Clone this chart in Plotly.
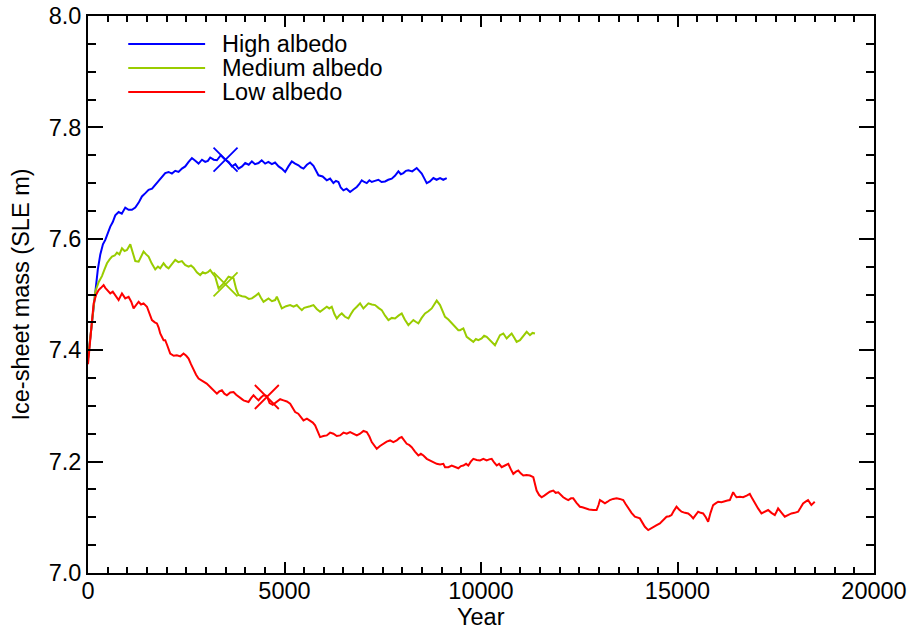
import plotly.graph_objects as go

# ---------------- data ----------------
high_years = [0, 100, 186, 250, 313, 380, 440, 500, 567, 630, 694, 779, 860, 948, 1033, 1118, 1203, 1290,
              1372, 1460, 1541, 1630, 1711, 1800, 1881, 1965, 2050, 2135, 2220, 2304, 2390, 2474, 2560,
              2644, 2730, 2813, 2900, 2982, 3050, 3110, 3200, 3280, 3380, 3491, 3580, 3661, 3750, 3830,
              3920, 4000, 4090, 4170, 4250, 4339, 4420, 4508, 4590, 4678, 4760, 4850, 4930, 5017, 5100,
              5186, 5270, 5356, 5420, 5483, 5570, 5652, 5737, 5800, 5864, 5970, 6076, 6160, 6245, 6310,
              6372, 6430, 6499, 6580, 6669, 6760, 6839, 6900, 6966, 7030, 7093, 7160, 7220, 7300, 7389,
              7470, 7559, 7640, 7729, 7810, 7898, 7960, 8025, 8090, 8152, 8250, 8364, 8430, 8492, 8560,
              8619, 8700, 8788, 8870, 8958, 9040, 9128]
high_mass = [7.385, 7.45, 7.51, 7.545, 7.572, 7.59, 7.598, 7.61, 7.622, 7.63, 7.642, 7.648, 7.645, 7.656,
             7.652, 7.652, 7.656, 7.665, 7.676, 7.682, 7.688, 7.69, 7.697, 7.704, 7.712, 7.718, 7.72,
             7.717, 7.722, 7.72, 7.726, 7.73, 7.738, 7.745, 7.74, 7.735, 7.742, 7.738, 7.74, 7.746,
             7.742, 7.741, 7.75, 7.742, 7.738, 7.73, 7.734, 7.726, 7.73, 7.736, 7.733, 7.739, 7.734,
             7.736, 7.741, 7.735, 7.738, 7.734, 7.737, 7.73, 7.726, 7.72, 7.73, 7.739, 7.735, 7.732,
             7.728, 7.726, 7.733, 7.737, 7.731, 7.722, 7.714, 7.712, 7.705, 7.708, 7.7, 7.704, 7.702,
             7.692, 7.687, 7.69, 7.684, 7.689, 7.693, 7.698, 7.705, 7.702, 7.7, 7.705, 7.702, 7.704,
             7.706, 7.702, 7.703, 7.706, 7.708, 7.713, 7.721, 7.716, 7.718, 7.722, 7.723, 7.721, 7.727,
             7.722, 7.717, 7.708, 7.7, 7.703, 7.709, 7.706, 7.709, 7.706, 7.709]

medium_years = [0, 100, 186, 270, 355, 420, 483, 550, 610, 680, 737, 800, 864, 930, 991, 1076, 1140, 1203,
                1288, 1350, 1414, 1480, 1541, 1620, 1711, 1780, 1838, 1923, 1990, 2050, 2130, 2220, 2300,
                2389, 2470, 2559, 2620, 2686, 2770, 2855, 2920, 2982, 3050, 3110, 3170, 3237, 3322, 3450,
                3576, 3640, 3703, 3770, 3830, 3920, 4000, 4090, 4170, 4250, 4339, 4400, 4466, 4530, 4593,
                4680, 4762, 4805, 4870, 4932, 5040, 5144, 5230, 5313, 5380, 5441, 5500, 5568, 5650, 5737,
                5820, 5906, 5990, 6076, 6140, 6203, 6270, 6330, 6400, 6457, 6540, 6627, 6690, 6753, 6840,
                6923, 7008, 7070, 7135, 7220, 7305, 7390, 7474, 7560, 7644, 7730, 7813, 7900, 7983, 8060,
                8152, 8220, 8279, 8340, 8406, 8490, 8576, 8660, 8746, 8810, 8873, 8958, 9020, 9085, 9170,
                9255, 9339, 9423, 9466, 9551, 9636, 9720, 9805, 9870, 9932, 10017, 10080, 10144, 10210,
                10272, 10356, 10420, 10483, 10568, 10653, 10720, 10780, 10850, 10907, 10992, 11080, 11162,
                11246, 11310, 11373]
medium_mass = [7.385, 7.45, 7.505, 7.522, 7.533, 7.545, 7.556, 7.563, 7.568, 7.57, 7.575, 7.572, 7.583,
               7.578, 7.58, 7.59, 7.574, 7.56, 7.559, 7.567, 7.577, 7.572, 7.568, 7.556, 7.545, 7.55,
               7.547, 7.556, 7.55, 7.547, 7.555, 7.562, 7.558, 7.56, 7.553, 7.55, 7.552, 7.548, 7.54,
               7.535, 7.54, 7.538, 7.54, 7.544, 7.538, 7.532, 7.511, 7.52, 7.532, 7.53, 7.529, 7.51,
               7.499, 7.497, 7.496, 7.492, 7.493, 7.497, 7.502, 7.494, 7.487, 7.49, 7.493, 7.488, 7.49,
               7.496, 7.485, 7.475, 7.479, 7.481, 7.478, 7.481, 7.476, 7.472, 7.476, 7.478, 7.479, 7.481,
               7.474, 7.469, 7.473, 7.478, 7.475, 7.478, 7.465, 7.457, 7.463, 7.466, 7.46, 7.457, 7.465,
               7.472, 7.478, 7.484, 7.475, 7.48, 7.484, 7.482, 7.481, 7.476, 7.472, 7.462, 7.454, 7.458,
               7.457, 7.462, 7.466, 7.455, 7.445, 7.45, 7.454, 7.451, 7.448, 7.458, 7.466, 7.47, 7.475,
               7.482, 7.489, 7.481, 7.47, 7.46, 7.455, 7.448, 7.442, 7.436, 7.436, 7.439, 7.424, 7.42,
               7.415, 7.42, 7.418, 7.421, 7.426, 7.424, 7.419, 7.415, 7.409, 7.418, 7.427, 7.43, 7.421,
               7.426, 7.43, 7.422, 7.415, 7.418, 7.425, 7.433, 7.427, 7.431, 7.43]

low_years = [0, 80, 143, 210, 270, 330, 397, 440, 483, 567, 630, 694, 779, 864, 948, 1033, 1100, 1160, 1230,
             1288, 1350, 1414, 1500, 1560, 1627, 1700, 1754, 1800, 1838, 1923, 1965, 2020, 2092, 2180, 2262,
             2350, 2431, 2500, 2559, 2620, 2686, 2750, 2813, 2880, 2940, 3020, 3110, 3200, 3280, 3340, 3407,
             3470, 3534, 3620, 3703, 3770, 3830, 3900, 3957, 4020, 4084, 4150, 4212, 4280, 4339, 4400, 4466,
             4550, 4620, 4700, 4805, 4890, 4975, 5060, 5144, 5210, 5271, 5350, 5420, 5483, 5570, 5652, 5720,
             5779, 5840, 5906, 5990, 6076, 6160, 6245, 6330, 6415, 6500, 6584, 6670, 6753, 6840, 6923, 7010,
             7093, 7160, 7220, 7290, 7347, 7430, 7516, 7600, 7686, 7770, 7856, 7920, 7983, 8050, 8110, 8170,
             8237, 8320, 8406, 8470, 8534, 8620, 8703, 8790, 8873, 8958, 9042, 9085, 9169, 9255, 9340, 9423,
             9490, 9551, 9620, 9677, 9740, 9805, 9890, 9975, 10060, 10144, 10210, 10272, 10340, 10399, 10460,
             10526, 10610, 10695, 10760, 10822, 10890, 10949, 11010, 11076, 11160, 11246, 11331, 11370, 11415,
             11480, 11543, 11610, 11670, 11750, 11839, 11900, 11966, 12030, 12093, 12160, 12220, 12290, 12347,
             12430, 12517, 12580, 12644, 12750, 12856, 12941, 12990, 13026, 13090, 13153, 13220, 13280, 13360,
             13450, 13530, 13619, 13680, 13746, 13830, 13916, 13980, 14043, 14110, 14170, 14255, 14320, 14382,
             14470, 14552, 14640, 14721, 14790, 14848, 14910, 14975, 15040, 15103, 15190, 15272, 15340, 15399,
             15460, 15526, 15590, 15653, 15720, 15780, 15840, 15907, 15970, 16034, 16120, 16204, 16270, 16331,
             16380, 16416, 16460, 16501, 16590, 16670, 16760, 16840, 16900, 16967, 17050, 17137, 17220, 17306,
             17390, 17476, 17520, 17560, 17650, 17730, 17810, 17899, 17980, 18069, 18130, 18196, 18260, 18322,
             18370, 18407, 18450, 18492]
low_mass = [7.375, 7.44, 7.484, 7.5, 7.508, 7.512, 7.517, 7.512, 7.508, 7.502, 7.505, 7.499, 7.49, 7.502,
            7.493, 7.496, 7.487, 7.475, 7.482, 7.487, 7.482, 7.484, 7.478, 7.468, 7.454, 7.45, 7.448, 7.44,
            7.43, 7.418, 7.418, 7.408, 7.394, 7.39, 7.391, 7.389, 7.394, 7.39, 7.385, 7.375, 7.364, 7.356,
            7.349, 7.346, 7.343, 7.34, 7.334, 7.327, 7.322, 7.326, 7.328, 7.322, 7.319, 7.324, 7.325, 7.32,
            7.316, 7.313, 7.31, 7.309, 7.307, 7.314, 7.319, 7.314, 7.31, 7.315, 7.319, 7.318, 7.305, 7.302,
            7.307, 7.312, 7.31, 7.308, 7.304, 7.296, 7.289, 7.286, 7.28, 7.274, 7.277, 7.274, 7.27, 7.265,
            7.255, 7.244, 7.246, 7.247, 7.252, 7.25, 7.246, 7.247, 7.252, 7.25, 7.253, 7.25, 7.247, 7.25,
            7.255, 7.253, 7.245, 7.235, 7.228, 7.223, 7.228, 7.232, 7.236, 7.238, 7.235, 7.238, 7.242, 7.244,
            7.238, 7.232, 7.23, 7.226, 7.218, 7.211, 7.214, 7.211, 7.205, 7.202, 7.199, 7.196, 7.195, 7.196,
            7.19, 7.19, 7.193, 7.191, 7.188, 7.192, 7.193, 7.196, 7.193, 7.2, 7.205, 7.203, 7.202, 7.205,
            7.202, 7.204, 7.205, 7.198, 7.193, 7.196, 7.19, 7.193, 7.196, 7.186, 7.178, 7.182, 7.184, 7.179,
            7.175, 7.176, 7.175, 7.172, 7.16, 7.148, 7.14, 7.136, 7.139, 7.142, 7.146, 7.148, 7.144, 7.145,
            7.14, 7.136, 7.133, 7.131, 7.134, 7.134, 7.126, 7.119, 7.118, 7.116, 7.114, 7.113, 7.113, 7.122,
            7.131, 7.128, 7.125, 7.128, 7.131, 7.133, 7.134, 7.133, 7.131, 7.124, 7.116, 7.108, 7.101, 7.1,
            7.098, 7.09, 7.083, 7.077, 7.08, 7.083, 7.086, 7.089, 7.095, 7.101, 7.102, 7.104, 7.112, 7.119,
            7.114, 7.11, 7.108, 7.107, 7.103, 7.098, 7.104, 7.11, 7.108, 7.107, 7.1, 7.092, 7.108, 7.122,
            7.125, 7.128, 7.127, 7.128, 7.13, 7.131, 7.14, 7.145, 7.14, 7.136, 7.137, 7.136, 7.139, 7.142,
            7.134, 7.125, 7.116, 7.107, 7.11, 7.113, 7.108, 7.104, 7.11, 7.116, 7.108, 7.101, 7.104, 7.107,
            7.108, 7.11, 7.117, 7.125, 7.128, 7.131, 7.126, 7.122, 7.125, 7.128]

# cross markers (year, mass)
marker_years = [3500, 3500, 4550]
marker_mass = [7.742, 7.518, 7.316]

series_names = ["High albedo", "Medium albedo", "Low albedo"]
series_colors = ["#0000ff", "#99cc00", "#ff0000"]

x_ticks = [0, 5000, 10000, 15000, 20000]
x_ticktext = ["0", "5000", "10000", "15000", "20000"]
y_ticks = [7.0, 7.2, 7.4, 7.6, 7.8, 8.0]
y_ticktext = ["7.0", "7.2", "7.4", "7.6", "7.8", "8.0"]

# ---------------- figure ----------------
FONT = "Liberation Sans, Arial, Helvetica, sans-serif"
FS = 23.5
fig = go.Figure()
all_x = [high_years, medium_years, low_years]
all_y = [high_mass, medium_mass, low_mass]
for xs, ys, name, col in zip(all_x, all_y, series_names, series_colors):
    fig.add_trace(go.Scatter(x=xs, y=ys, mode="lines", name=name,
                             line=dict(color=col, width=2), showlegend=False))
for mx, my, col in zip(marker_years, marker_mass, series_colors):
    fig.add_trace(go.Scatter(x=[mx], y=[my], mode="markers", showlegend=False,
                             marker=dict(symbol="x-thin-open", size=24, color=col,
                                         line=dict(color=col, width=1.8))))

# manual legend (paper coords)
leg_y = [0.9497, 0.9066, 0.8635]
for name, col, ly in zip(series_names, series_colors, leg_y):
    fig.add_shape(type="line", xref="paper", yref="paper", x0=0.0512, x1=0.149, y0=ly, y1=ly,
                  line=dict(color=col, width=2))
    fig.add_annotation(xref="paper", yref="paper", x=0.168, y=ly, text=name, showarrow=False,
                       xanchor="left", yanchor="middle", font=dict(family=FONT, size=FS, color="black"))

# x-axis title placed just below the tick labels, kept inside the page
fig.add_annotation(xref="paper", yref="paper", x=0.5, y=-0.1045, text="Year", showarrow=False,
                   xanchor="center", yanchor="bottom", borderpad=0,
                   font=dict(family=FONT, size=FS, color="black"))

axis_common = dict(showgrid=False, zeroline=False, showline=True, linecolor="black", linewidth=2,
                   mirror="allticks", ticks="inside", tickcolor="black", tickwidth=2, automargin=False,
                   tickfont=dict(family=FONT, size=FS, color="black"))
fig.update_xaxes(range=[0, 20000], tickvals=x_ticks, ticktext=x_ticktext, ticklen=11,
                 ticklabelstandoff=-4,
                 minor=dict(ticks="inside", dtick=500, ticklen=6, tickcolor="black", tickwidth=2),
                 **axis_common)
fig.update_yaxes(range=[7.0, 8.0], tickvals=y_ticks, ticktext=y_ticktext, ticklen=15,
                 minor=dict(ticks="inside", dtick=0.05, ticklen=8, tickcolor="black", tickwidth=2),
                 title=dict(text="Ice-sheet mass (SLE m)", standoff=12,
                            font=dict(family=FONT, size=FS, color="black")),
                 **axis_common)
fig.update_layout(width=909, height=631, plot_bgcolor="white", paper_bgcolor="white",
                  margin=dict(l=88, r=35, t=16, b=58), font=dict(family=FONT, color="black"))
fig.write_html("out.html")
